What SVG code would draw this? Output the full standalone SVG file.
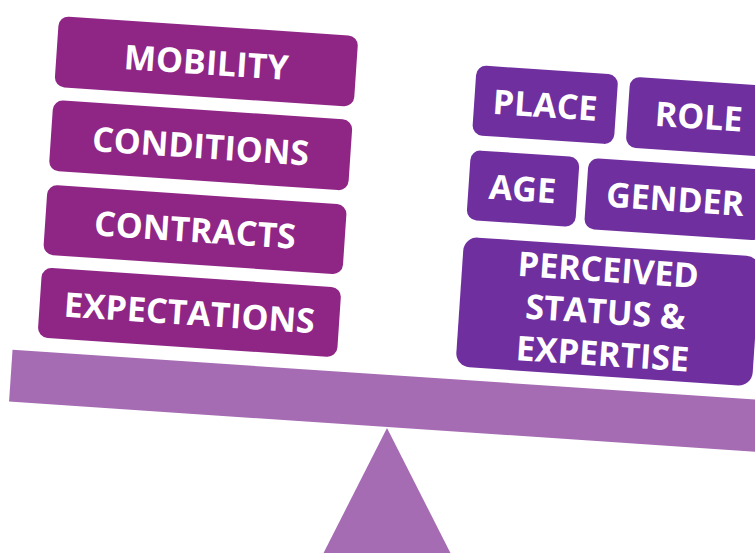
<svg xmlns="http://www.w3.org/2000/svg" width="755" height="553" viewBox="0 0 755 553">
<style>
.l{fill:#8F2686}
.r{fill:#6F2F9F}
.beam{fill:#A56BB3}
text{font-family:"Open Sans","Liberation Sans",sans-serif;font-weight:700;font-size:34px;fill:#fff;text-anchor:middle}
</style>
<rect width="755" height="553" fill="#fff"/>
<polygon id="fulcrum" class="beam" points="387,428 320,560 454,560"/>
<g transform="rotate(3.85)">
<rect id="beam" class="beam" x="36" y="348" width="800" height="52"/>
<g id="mobility"><rect class="l" x="60" y="12" width="300" height="71" rx="10"/><text x="210" y="60.5">MOBILITY</text></g>
<g id="conditions"><rect class="l" x="60" y="96" width="300" height="71" rx="10"/><text x="210" y="144.5">CONDITIONS</text></g>
<g id="contracts"><rect class="l" x="60" y="181" width="300" height="70" rx="10"/><text x="210" y="228.5">CONTRACTS</text></g>
<g id="expectations"><rect class="l" x="60" y="264" width="300" height="70" rx="10"/><text x="210" y="311.5">EXPECTATIONS</text></g>
<g id="place"><rect class="r" x="480" y="33" width="142" height="70" rx="10"/><text x="551" y="80.5">PLACE</text></g>
<g id="role"><rect class="r" x="634" y="34" width="142" height="71" rx="10"/><text x="705" y="81.5">ROLE</text></g>
<g id="age"><rect class="r" x="480" y="118" width="109" height="70" rx="10"/><text x="534" y="165.5">AGE</text></g>
<g id="gender"><rect class="r" x="598" y="118" width="178" height="71" rx="10"/><text x="687" y="165.5">GENDER</text></g>
<g id="perceived"><rect class="r" x="479" y="205" width="297" height="130" rx="14"/>
<text x="625" y="240.5">PERCEIVED</text><text x="625" y="282.5">STATUS &amp;</text><text x="625" y="324.5">EXPERTISE</text></g>
</g>
</svg>
